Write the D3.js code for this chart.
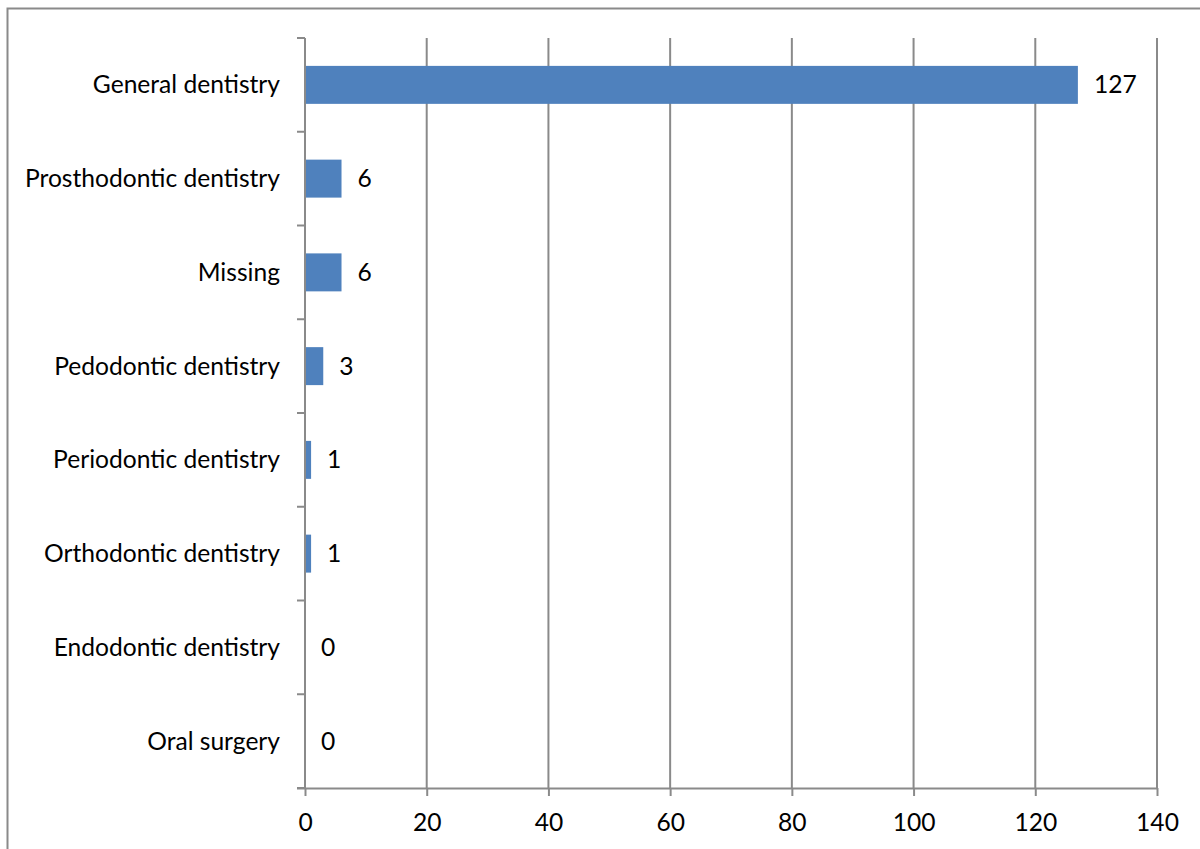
<!DOCTYPE html>
<html>
<head>
<meta charset="utf-8">
<script src="https://cdn.jsdelivr.net/npm/d3@7"></script>
<style>
  body { margin: 0; background: #fff; }
  svg { display: block; font-family: Lato, "Open Sans", sans-serif; }
</style>
</head>
<body>
<div id="graf"></div>
<script>
const categories = [
  "General dentistry",
  "Prosthodontic dentistry",
  "Missing",
  "Pedodontic dentistry",
  "Periodontic dentistry",
  "Orthodontic dentistry",
  "Endodontic dentistry",
  "Oral surgery"
];
const values = [127, 6, 6, 3, 1, 1, 0, 0];
const xTicks = [0, 20, 40, 60, 80, 100, 120, 140];

const ancho_total = 1200;
const alto_total = 849;
const margins = { top: 38, left: 305, right: 43, bottom: 61 };
const ancho = ancho_total - margins.left - margins.right;
const alto = alto_total - margins.top - margins.bottom;
const gris = "#8a8a8a";
const fuente = "24.6px";

const root = d3.select("#graf")
  .append("svg")
  .attr("width", ancho_total)
  .attr("height", alto_total);

// outer chart border (clipped at right/bottom like the source)
root.append("rect")
  .attr("x", 7.5).attr("y", 8.5)
  .attr("width", ancho_total).attr("height", alto_total)
  .attr("fill", "none")
  .attr("stroke", gris)
  .attr("stroke-width", 2);

const svg = root.append("g")
  .attr("transform", `translate(${margins.left}, ${margins.top})`);

const x = d3.scaleLinear().domain([0, 140]).range([0, ancho]);
const y = d3.scaleBand().domain(categories).range([0, alto]).paddingInner(0.595).paddingOuter(0.2975);

// vertical gridlines
svg.selectAll(".grid")
  .data(xTicks.slice(1))
  .enter()
  .append("line")
  .attr("class", "grid")
  .attr("x1", (d) => x(d)).attr("x2", (d) => x(d))
  .attr("y1", 0).attr("y2", alto)
  .attr("stroke", gris)
  .attr("stroke-width", 2);

// bars
svg.selectAll(".bar")
  .data(values)
  .enter()
  .append("rect")
  .attr("class", "bar")
  .attr("x", x(0))
  .attr("y", (d, i) => y(categories[i]))
  .attr("width", (d) => x(d) - x(0))
  .attr("height", y.bandwidth())
  .attr("fill", "#4f81bd");

// value labels
svg.selectAll(".val")
  .data(values)
  .enter()
  .append("text")
  .attr("class", "val")
  .attr("x", (d) => x(d) + 16)
  .attr("y", (d, i) => y(categories[i]) + y.bandwidth() / 2)
  .attr("dy", "0.35em")
  .attr("font-size", fuente)
  .attr("fill", "#000")
  .text((d) => d);

// left axis with category boundary ticks
const step = alto / categories.length;
svg.append("line")
  .attr("x1", 0).attr("x2", 0)
  .attr("y1", 0).attr("y2", alto)
  .attr("stroke", gris).attr("stroke-width", 2);
svg.selectAll(".ytick")
  .data(d3.range(categories.length + 1))
  .enter()
  .append("line")
  .attr("class", "ytick")
  .attr("x1", -8).attr("x2", 0)
  .attr("y1", (d) => d * step).attr("y2", (d) => d * step)
  .attr("stroke", gris).attr("stroke-width", 2);
svg.selectAll(".ylab")
  .data(categories)
  .enter()
  .append("text")
  .attr("class", "ylab")
  .attr("x", -25)
  .attr("y", (d) => y(d) + y.bandwidth() / 2)
  .attr("dy", "0.35em")
  .attr("text-anchor", "end")
  .attr("font-size", fuente)
  .attr("fill", "#000")
  .text((d) => d);

// bottom axis
const ejeX = svg.append("g")
  .attr("transform", `translate(0, ${alto})`)
  .call(d3.axisBottom(x).tickValues(xTicks).tickSize(8).tickPadding(18).tickSizeOuter(0));
ejeX.select(".domain").attr("stroke", gris).attr("stroke-width", 2)
  .attr("d", `M-8,0.5H${ancho}`);
ejeX.selectAll(".tick line").attr("stroke", gris).attr("stroke-width", 2);
ejeX.selectAll(".tick text").attr("font-size", fuente).attr("fill", "#000")
  .attr("font-family", "Lato, 'Open Sans', sans-serif");
</script>
</body>
</html>
